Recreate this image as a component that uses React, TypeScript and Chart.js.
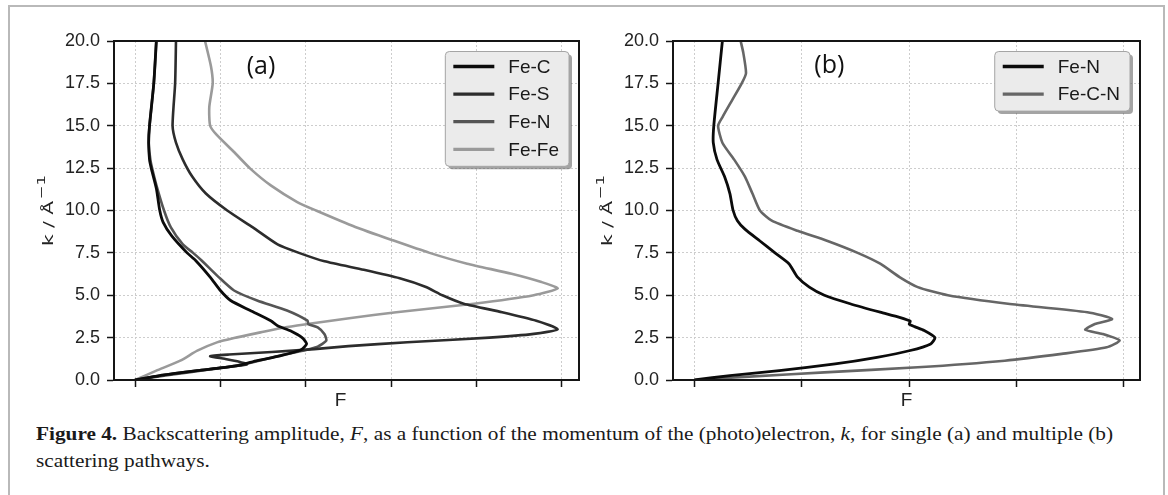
import React, { useEffect, useRef, useMemo } from "react";
import { Chart, registerables } from "chart.js";

Chart.register(...registerables);

// ---------- Data: panel (a), single scattering ----------
const feC_k = [20, 17.5, 15, 14, 13, 12.5, 11.3, 10, 9.3, 8.5, 7.5, 7.05, 6.07, 5.28, 4.69, 4.1, 3.5, 3.2, 2.9, 2.48, 2.13, 1.77, 1.44, 1.14, 0.85, 0.55, 0.26, 0];
const feC_F = [0.25, 0.22, 0.17, 0.16, 0.17, 0.19, 0.25, 0.29, 0.33, 0.43, 0.61, 0.71, 0.88, 1.0, 1.12, 1.35, 1.59, 1.67, 1.82, 1.96, 2.01, 1.94, 1.71, 1.43, 1.2, 0.73, 0.29, 0];

const feS_k = [20, 17.5, 15, 14, 13, 12, 11, 10, 9, 8, 7.5, 7, 6.5, 6, 5.5, 5, 4.5, 4, 3.5, 3, 2.72, 2.5, 2.23, 2.0, 1.82, 1.65, 1.5, 1.4, 1.25, 1.08, 0.92, 0.65, 0.35, 0];
const feS_F = [0.48, 0.47, 0.44, 0.48, 0.56, 0.67, 0.83, 1.08, 1.38, 1.67, 1.92, 2.22, 2.68, 3.1, 3.4, 3.6, 3.85, 4.3, 4.7, 4.95, 4.67, 4.15, 3.19, 2.5, 2.1, 1.6, 1.1, 0.88, 1.05, 1.22, 1.31, 0.88, 0.41, 0];

const feNa_k = [20, 17.5, 15, 14, 13, 12.5, 11.5, 10, 9, 8, 7.5, 7.05, 6.07, 5.28, 4.69, 4.1, 3.5, 3.3, 3.1, 2.7, 2.32, 1.97, 1.77, 1.5, 1.2, 0.9, 0.6, 0.3, 0];
const feNa_F = [0.25, 0.22, 0.17, 0.16, 0.18, 0.2, 0.25, 0.34, 0.42, 0.56, 0.68, 0.78, 0.98, 1.16, 1.43, 1.78, 2.02, 2.03, 2.14, 2.22, 2.24, 2.14, 2.0, 1.75, 1.5, 1.25, 0.85, 0.4, 0];

const feFe_k = [20, 18.5, 17.5, 16.1, 15, 14.44, 13.45, 12.47, 11.48, 10.5, 10, 9.03, 8.24, 7.5, 6.86, 6.27, 5.78, 5.4, 5.0, 4.5, 4.0, 3.66, 3.3, 3.1, 2.81, 2.48, 2.22, 1.73, 1.14, 0.55, 0];
const feFe_F = [0.82, 0.89, 0.91, 0.87, 0.88, 0.96, 1.16, 1.35, 1.59, 1.9, 2.12, 2.58, 3.02, 3.45, 3.89, 4.41, 4.76, 4.95, 4.67, 3.97, 3.06, 2.53, 2.02, 1.75, 1.47, 1.16, 0.96, 0.73, 0.53, 0.25, 0];

// ---------- Data: panel (b), multiple scattering ----------
const feNb_k = [20, 17.5, 15, 14, 13, 12, 11, 10, 9.4, 8.9, 8.2, 7.5, 6.86, 6.07, 5.48, 5, 4.5, 4, 3.7, 3.47, 3.3, 3.15, 2.92, 2.5, 2.13, 1.74, 1.34, 0.95, 0.55, 0.26, 0];
const feNb_F = [0.26, 0.22, 0.18, 0.175, 0.21, 0.28, 0.33, 0.36, 0.4, 0.47, 0.61, 0.75, 0.88, 0.96, 1.07, 1.21, 1.45, 1.73, 1.91, 2.01, 2.0, 2.05, 2.14, 2.24, 2.2, 2.01, 1.7, 1.31, 0.79, 0.33, 0];

const feCN_k = [20, 19.3, 18.1, 17.5, 16.5, 15.5, 15, 14, 13, 12, 11, 10, 9.4, 8.8, 8.2, 7.5, 6.86, 6.07, 5.48, 5, 4.5, 4, 3.6, 3.3, 2.96, 2.72, 2.33, 1.93, 1.54, 1.14, 0.75, 0.45, 0.2, 0];
const feCN_F = [0.43, 0.455, 0.48, 0.44, 0.35, 0.26, 0.22, 0.26, 0.37, 0.47, 0.54, 0.61, 0.72, 0.96, 1.24, 1.52, 1.73, 1.91, 2.08, 2.36, 2.92, 3.66, 3.89, 3.73, 3.64, 3.8, 3.96, 3.84, 3.42, 2.89, 2.08, 1.21, 0.51, 0];

// ---------- Ticks and labels ----------
const yTickValues = [0, 2.5, 5, 7.5, 10, 12.5, 15, 17.5, 20];
const xTicksA = [0, 1, 2, 3, 4, 5];
const xTicksB = [0, 1, 2, 3, 4];
const seriesNamesA = ["Fe-C", "Fe-S", "Fe-N", "Fe-Fe"];
const seriesNamesB = ["Fe-N", "Fe-C-N"];
const panelLabels = ["(a)", "(b)"];
const xTitle = "F";
const yTitleMain = "k / Å";
const yTitleSup = "−1";

const captionBold = "Figure 4.";
const captionParts1 = [
  { t: " Backscattering amplitude, ", i: false },
  { t: "F", i: true },
  { t: ", as a function of the momentum of the (photo)electron, ", i: false },
  { t: "k", i: true },
  { t: ", for single (a) and multiple (b)", i: false },
];
const captionLine2 = "scattering pathways.";

const SANS = '"Liberation Sans", Arial, sans-serif';
const SERIF = '"Liberation Serif", serif';
const CAP_SIZE = 19;

function roundRect(ctx: CanvasRenderingContext2D, x: number, y: number, w: number, h: number, r: number) {
  ctx.beginPath();
  ctx.moveTo(x + r, y);
  ctx.lineTo(x + w - r, y);
  ctx.arcTo(x + w, y, x + w, y + r, r);
  ctx.lineTo(x + w, y + h - r);
  ctx.arcTo(x + w, y + h, x + w - r, y + h, r);
  ctx.lineTo(x + r, y + h);
  ctx.arcTo(x, y + h, x, y + h - r, r);
  ctx.lineTo(x, y + r);
  ctx.arcTo(x, y, x + r, y, r);
  ctx.closePath();
}

const decorPlugin = {
  id: "decor",
  afterDraw(chart: any, _args: any, opts: any) {
    const { ctx, chartArea: ca, scales } = chart;
    ctx.save();
    // full frame of the axes
    ctx.strokeStyle = "#151515";
    ctx.lineWidth = 2;
    ctx.strokeRect(ca.left, ca.top, ca.right - ca.left, ca.bottom - ca.top);

    // panel label
    ctx.fillStyle = "#111";
    ctx.font = '25px "Open Sans", sans-serif';
    ctx.textAlign = "center";
    ctx.textBaseline = "middle";
    ctx.fillText(opts.label, scales.x.getPixelForValue(opts.labelF), scales.y.getPixelForValue(opts.labelK));

    // x title
    ctx.font = "19px " + SANS;
    ctx.textBaseline = "alphabetic";
    ctx.fillStyle = "#222";
    ctx.fillText(xTitle, (ca.left + ca.right) / 2 + opts.xTitleShift, 406);

    // y title (rotated)
    ctx.save();
    const cy = (ca.top + ca.bottom) / 2;
    ctx.translate(ca.left - 61, cy);
    ctx.rotate(-Math.PI / 2);
    ctx.scale(1.5, 1);
    ctx.font = '13.5px "DejaVu Sans", sans-serif';
    const wMain = ctx.measureText(yTitleMain).width;
    ctx.font = '11px "DejaVu Sans", sans-serif';
    const wSup = ctx.measureText(yTitleSup).width;
    const total = wMain + 1 + wSup;
    ctx.textAlign = "left";
    ctx.font = '13.5px "DejaVu Sans", sans-serif';
    ctx.fillText(yTitleMain, -total / 2, 0);
    ctx.font = '11px "DejaVu Sans", sans-serif';
    ctx.fillText(yTitleSup, -total / 2 + wMain + 1, -8);
    ctx.restore();

    // legend
    const items = chart.data.datasets;
    ctx.font = "19px " + SANS;
    const maxW = Math.max(...items.map((d: any) => ctx.measureText(d.label).width));
    const padL = 8, lineLen = 41, gap = 14, padR = 10;
    const rowH = 27.6, topPad = 15, botPad = 17;
    const w = padL + lineLen + gap + maxW + padR;
    const h = topPad + (items.length - 1) * rowH + botPad;
    const x0 = ca.right - 10 - w;
    const y0 = ca.top + 10.5;
    ctx.fillStyle = "rgba(90,90,90,0.55)";
    roundRect(ctx, x0 + 3, y0 + 3, w, h, 4);
    ctx.fill();
    ctx.fillStyle = "#ebebeb";
    roundRect(ctx, x0, y0, w, h, 4);
    ctx.fill();
    ctx.strokeStyle = "#a5a5a5";
    ctx.lineWidth = 1;
    ctx.stroke();
    ctx.textAlign = "left";
    ctx.textBaseline = "middle";
    items.forEach((d: any, i: number) => {
      const yy = y0 + topPad + i * rowH;
      ctx.strokeStyle = d.borderColor;
      ctx.lineWidth = d.borderWidth + 0.6;
      ctx.beginPath();
      ctx.moveTo(x0 + padL, yy);
      ctx.lineTo(x0 + padL + lineLen, yy);
      ctx.stroke();
      ctx.fillStyle = "#1a1a1a";
      ctx.fillText(d.label, x0 + padL + lineLen + gap, yy + 1);
    });
    ctx.restore();
  },
};

type Series = { name: string; k: number[]; F: number[]; color: string; width: number };

function makeConfig(series: Series[], xMin: number, xMax: number, xTicks: number[], rightPad: number, deco: any): any {
  const gridCommon = {
    color: "#cdcdcd",
    lineWidth: 1,
    drawTicks: true,
    tickLength: 7,
    tickColor: "#151515",
    tickWidth: 1.5,
    tickBorderDash: [],
  };
  const borderCommon = { display: true, color: "#151515", width: 2, dash: [2, 2] };
  return {
    type: "scatter",
    data: {
      datasets: series.map((s) => ({
        label: s.name,
        data: s.k.map((k, i) => ({ x: s.F[i], y: k })),
        borderColor: s.color,
        backgroundColor: s.color,
        borderWidth: s.width,
        showLine: true,
        pointRadius: 0,
        pointHoverRadius: 0,
        tension: 0.2,
        fill: false,
      })),
    },
    options: {
      animation: false,
      responsive: false,
      maintainAspectRatio: false,
      events: [],
      layout: { padding: { left: 0, top: 41, right: rightPad, bottom: 0 } },
      plugins: {
        legend: { display: false },
        tooltip: { enabled: false },
        decor: deco,
      },
      scales: {
        x: {
          type: "linear",
          min: xMin,
          max: xMax,
          afterBuildTicks: (s: any) => {
            s.ticks = xTicks.map((v) => ({ value: v }));
          },
          afterFit: (s: any) => {
            s.height = 40;
          },
          ticks: { callback: () => "", font: { size: 1 } },
          grid: gridCommon,
          border: borderCommon,
        },
        y: {
          type: "linear",
          min: 0,
          max: 20,
          afterBuildTicks: (s: any) => {
            s.ticks = yTickValues.map((v) => ({ value: v }));
          },
          afterFit: (s: any) => {
            s.width = 114;
          },
          ticks: {
            callback: (v: any) => Number(v).toFixed(1),
            font: { family: SANS, size: 18 },
            color: "#222",
            padding: 7,
          },
          grid: gridCommon,
          border: borderCommon,
        },
      },
    },
    plugins: [decorPlugin],
  };
}

function Panel({ left, width, config }: { left: number; width: number; config: any }) {
  const ref = useRef<HTMLCanvasElement | null>(null);
  useEffect(() => {
    if (!ref.current) return;
    const chart = new Chart(ref.current, config);
    return () => chart.destroy();
  }, [config]);
  return (
    <canvas
      ref={ref}
      width={width}
      height={420}
      style={{ position: "absolute", left, top: 0, width, height: 420 }}
    />
  );
}

export default function App() {
  const configA = useMemo(
    () =>
      makeConfig(
        [
          { name: seriesNamesA[0], k: feC_k, F: feC_F, color: "#0b0b0b", width: 2.8 },
          { name: seriesNamesA[1], k: feS_k, F: feS_F, color: "#2c2c2c", width: 2.6 },
          { name: seriesNamesA[2], k: feNa_k, F: feNa_F, color: "#555555", width: 2.6 },
          { name: seriesNamesA[3], k: feFe_k, F: feFe_F, color: "#9a9a9a", width: 2.6 },
        ],
        -0.246,
        5.2,
        xTicksA,
        21,
        { label: panelLabels[0], labelF: 1.475, labelK: 18.45, xTitleShift: -6 }
      ),
    []
  );
  const configB = useMemo(
    () =>
      makeConfig(
        [
          { name: seriesNamesB[0], k: feNb_k, F: feNb_F, color: "#0b0b0b", width: 2.8 },
          { name: seriesNamesB[1], k: feCN_k, F: feCN_F, color: "#666666", width: 2.6 },
        ],
        -0.2,
        4.15,
        xTicksB,
        28,
        { label: panelLabels[1], labelF: 1.256, labelK: 18.55, xTitleShift: 0 }
      ),
    []
  );

  const stretch = useMemo(() => {
    const c = document.createElement("canvas").getContext("2d")!;
    c.font = "bold " + CAP_SIZE + "px " + SERIF;
    let w = c.measureText(captionBold).width;
    for (const p of captionParts1) {
      c.font = (p.i ? "italic " : "") + CAP_SIZE + "px " + SERIF;
      w += c.measureText(p.t).width;
    }
    return 1077 / w;
  }, []);

  const capStyle: React.CSSProperties = {
    position: "absolute",
    left: 36,
    whiteSpace: "nowrap",
    fontFamily: SERIF,
    fontSize: CAP_SIZE,
    lineHeight: "27px",
    color: "#1a1a1a",
    transform: `scaleX(${stretch})`,
    transformOrigin: "0 0",
  };

  return (
    <div
      style={{
        position: "absolute",
        left: 0,
        top: 0,
        width: 1168,
        height: 495,
        overflow: "hidden",
        background: "#fff",
      }}
    >
      <div
        style={{
          position: "absolute",
          left: 8,
          top: 5,
          width: 1157,
          height: 560,
          boxSizing: "border-box",
          border: "2px solid #b9b9b9",
        }}
      />
      <Panel left={0} width={600} config={configA} />
      <Panel left={559} width={609} config={configB} />
      <div style={{ ...capStyle, top: 419.5 }}>
        <b>{captionBold}</b>
        {captionParts1.map((p, i) => (p.i ? <i key={i}>{p.t}</i> : <span key={i}>{p.t}</span>))}
      </div>
      <div style={{ ...capStyle, top: 446.5 }}>{captionLine2}</div>
    </div>
  );
}
